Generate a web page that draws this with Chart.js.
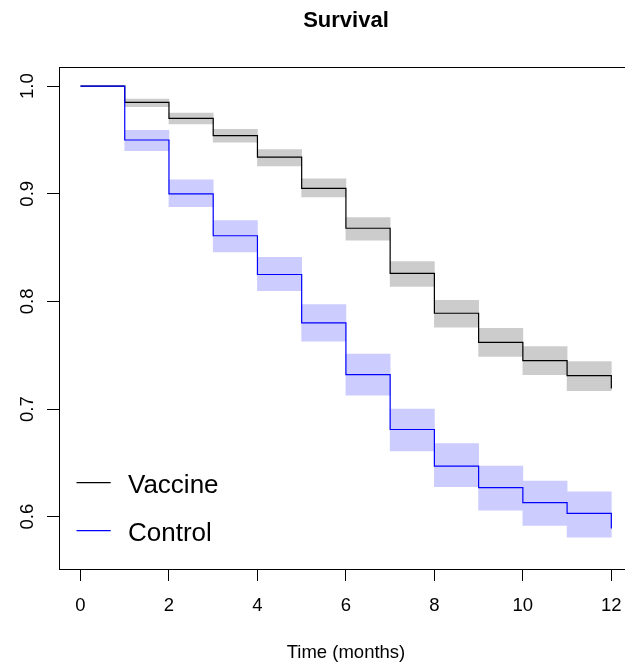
<!DOCTYPE html>
<html>
<head>
<meta charset="utf-8">
<script src="https://cdn.jsdelivr.net/npm/chart.js@4.4.1/dist/chart.umd.min.js"></script>
<style>
  html, body { margin: 0; padding: 0; background: #fff; overflow: hidden; }
  canvas { display: block; }
</style>
</head>
<body>
<canvas id="chart" width="650" height="668"></canvas>
<script>
// survival estimates at each month
const months = [0, 1, 2, 3, 4, 5, 6, 7, 8, 9, 10, 11, 12];
const vaccine = [1, 0.985, 0.970, 0.954, 0.934, 0.905, 0.868, 0.826, 0.789, 0.762, 0.745, 0.731, 0.719];
const control = [1, 0.950, 0.900, 0.861, 0.825, 0.780, 0.732, 0.681, 0.647, 0.627, 0.613, 0.603, 0.589];

// confidence bands, one box per month interval starting at bandStart
const bandStart = [1, 2, 3, 4, 5, 6, 7, 8, 9, 10, 11];
const vaccineLow  = [0.981, 0.965, 0.948, 0.926, 0.897, 0.857, 0.814, 0.776, 0.749, 0.732, 0.717];
const vaccineHigh = [0.988, 0.975, 0.960, 0.941, 0.914, 0.878, 0.837, 0.801, 0.775, 0.758, 0.744];
const controlLow  = [0.940, 0.888, 0.846, 0.810, 0.763, 0.713, 0.661, 0.628, 0.606, 0.592, 0.581];
const controlHigh = [0.959, 0.913, 0.875, 0.841, 0.797, 0.751, 0.700, 0.668, 0.647, 0.633, 0.623];

const xTicks = [0, 2, 4, 6, 8, 10, 12];
const yTicks = [0.6, 0.7, 0.8, 0.9, 1.0];
const seriesNames = ['Vaccine', 'Control'];
const seriesColors = ['#000000', '#0000FF'];
const bandColors = ['#CCCCCC', '#CCCCFF'];

const FONT = "'Liberation Sans', Arial, Helvetica, sans-serif";
Chart.defaults.font.family = FONT;
Chart.defaults.color = '#000';

const steps = vals => months.map((m, i) => ({ x: m, y: vals[i] }));
const boxes = (lo, hi) => bandStart.map((m, i) => ({ x: m + 0.5, y: [lo[i], hi[i]] }));

// frame, title, rotated y labels and legend in the R base-graphics style
const baseStyle = {
  id: 'baseStyle',
  afterDraw(chart) {
    const { ctx, chartArea: a, scales } = chart;
    ctx.save();
    ctx.strokeStyle = '#000';
    ctx.lineWidth = 1;
    ctx.strokeRect(a.left + 0.5, a.top + 0.5, a.right - a.left, a.bottom - a.top);

    ctx.fillStyle = '#000';
    ctx.font = "bold 22px " + FONT;
    ctx.textAlign = 'center';
    ctx.textBaseline = 'alphabetic';
    ctx.fillText('Survival', (a.left + a.right) / 2, 27);

    ctx.font = "18.5px " + FONT;
    yTicks.forEach(v => {
      const y = scales.y.getPixelForValue(v);
      ctx.save();
      ctx.translate(33.3, y);
      ctx.rotate(-Math.PI / 2);
      ctx.textAlign = 'center';
      ctx.fillText(v.toFixed(1), 0, 0);
      ctx.restore();
    });

    ctx.font = "26px " + FONT;
    ctx.textAlign = 'left';
    const rowY = [482.7, 530.7];
    seriesNames.forEach((name, i) => {
      ctx.strokeStyle = seriesColors[i];
      ctx.lineWidth = 1.2;
      ctx.beginPath();
      ctx.moveTo(76.5, rowY[i]);
      ctx.lineTo(110.7, rowY[i]);
      ctx.stroke();
      ctx.fillText(name, 128, rowY[i] + 10.6);
    });
    ctx.restore();
  }
};

new Chart(document.getElementById('chart'), {
  type: 'line',
  data: {
    datasets: [
      { type: 'bar', data: boxes(vaccineLow, vaccineHigh), backgroundColor: bandColors[0],
        borderWidth: 0, barPercentage: 1, categoryPercentage: 1, grouped: false, order: 4 },
      { type: 'bar', data: boxes(controlLow, controlHigh), backgroundColor: bandColors[1],
        borderWidth: 0, barPercentage: 1, categoryPercentage: 1, grouped: false, order: 3 },
      { label: seriesNames[0], data: steps(vaccine), borderColor: seriesColors[0], borderWidth: 1.2,
        stepped: true, pointRadius: 0, fill: false, order: 2 },
      { label: seriesNames[1], data: steps(control), borderColor: seriesColors[1], borderWidth: 1.2,
        stepped: true, pointRadius: 0, fill: false, order: 1 }
    ]
  },
  options: {
    responsive: false,
    animation: false,
    devicePixelRatio: 1,
    layout: { padding: { top: 67, left: 0, right: 17, bottom: 0 } },
    plugins: { legend: { display: false }, tooltip: { enabled: false }, title: { display: false } },
    scales: {
      x: {
        type: 'linear',
        offset: false,
        min: -0.486,
        max: 12.49,
        afterBuildTicks: s => { s.ticks = xTicks.map(v => ({ value: v })); },
        afterFit: s => { s.height = 99; },
        ticks: { font: { size: 18.5 }, color: '#000', padding: 14, maxRotation: 0, autoSkip: false },
        grid: { offset: false, drawOnChartArea: false, drawTicks: true, tickLength: 12, tickColor: '#000', tickWidth: 1 },
        border: { display: false },
        title: { display: true, text: 'Time (months)', font: { size: 18.5 }, color: '#000',
                 padding: { top: 0, bottom: 4 } }
      },
      y: {
        type: 'linear',
        min: 0.5514,
        max: 1.0178,
        afterBuildTicks: s => { s.ticks = yTicks.map(v => ({ value: v })); },
        afterFit: s => { s.width = 59; },
        ticks: { display: false },
        grid: { drawOnChartArea: false, drawTicks: true, tickLength: 12, tickColor: '#000', tickWidth: 1 },
        border: { display: false }
      }
    }
  },
  plugins: [baseStyle]
});
</script>
</body>
</html>
